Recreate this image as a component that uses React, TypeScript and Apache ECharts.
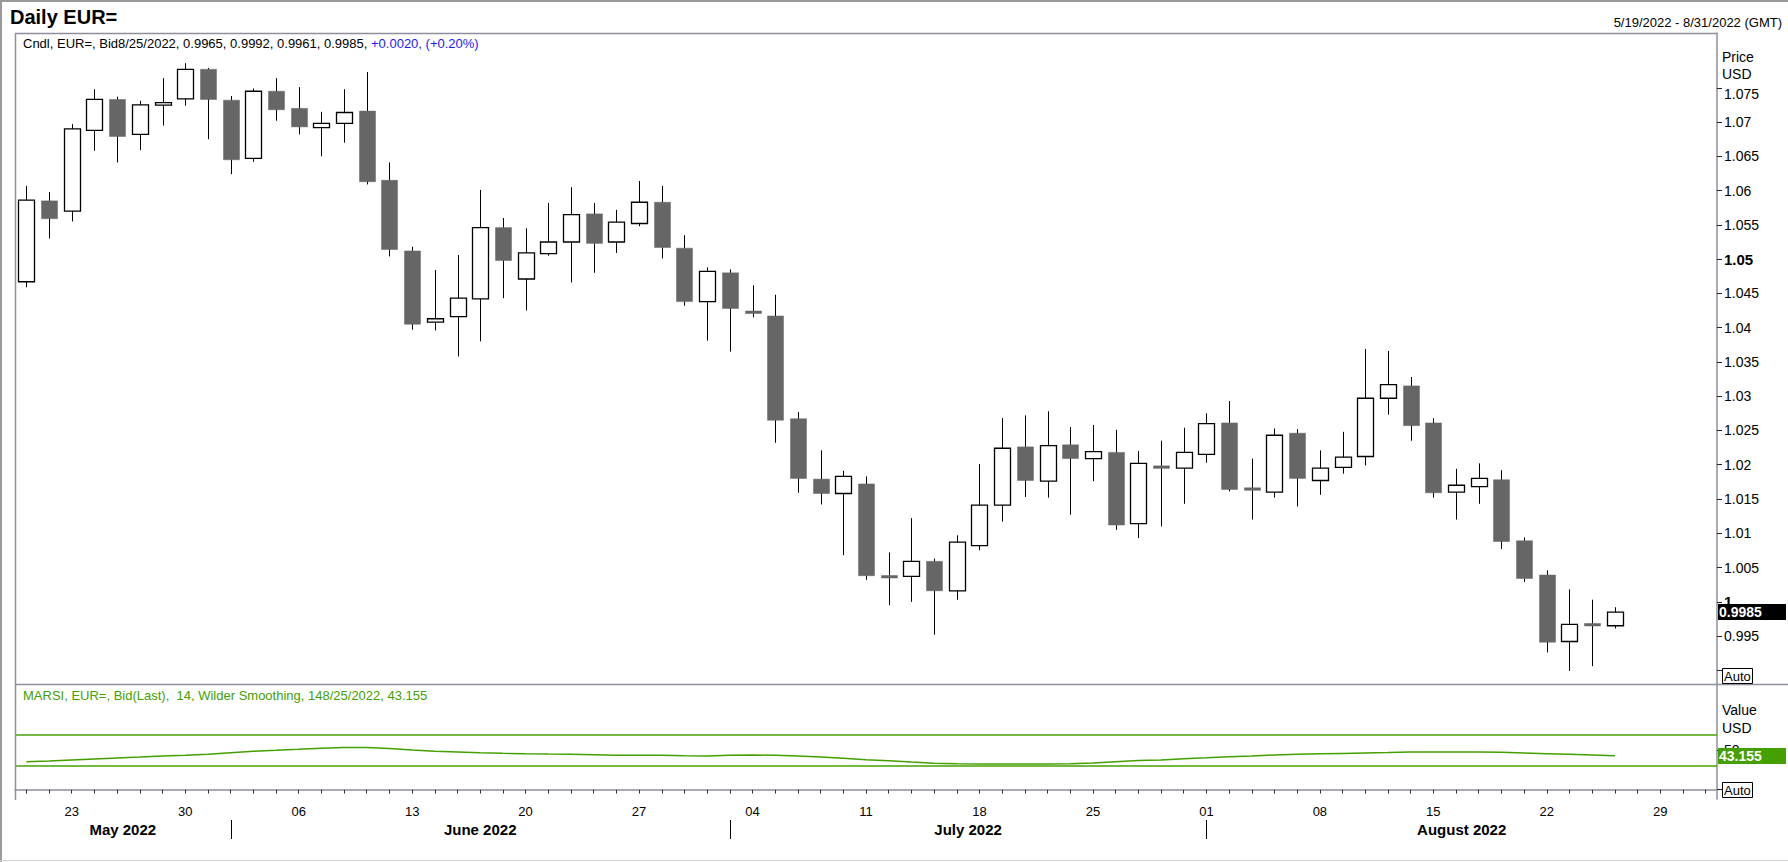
import React, { useEffect, useRef } from "react";
import * as echarts from "echarts";

const FONT = "'Liberation Sans', Arial, Helvetica, sans-serif";
const GREEN = "#44a000";
const AXIS_GRAY = "#8f8f9d";

// Categories: trading days shown on the time axis (5/19/2022 - 8/31/2022)
const dates: string[] = [
  "2022-05-19", "2022-05-20", "2022-05-23", "2022-05-24", "2022-05-25", "2022-05-26", "2022-05-27", "2022-05-30", "2022-05-31",
  "2022-06-01", "2022-06-02", "2022-06-03", "2022-06-06", "2022-06-07", "2022-06-08", "2022-06-09", "2022-06-10",
  "2022-06-13", "2022-06-14", "2022-06-15", "2022-06-16", "2022-06-17", "2022-06-20", "2022-06-21", "2022-06-22",
  "2022-06-23", "2022-06-24", "2022-06-27", "2022-06-28", "2022-06-29", "2022-06-30",
  "2022-07-01", "2022-07-04", "2022-07-05", "2022-07-06", "2022-07-07", "2022-07-08", "2022-07-11", "2022-07-12",
  "2022-07-13", "2022-07-14", "2022-07-15", "2022-07-18", "2022-07-19", "2022-07-20", "2022-07-21", "2022-07-22",
  "2022-07-25", "2022-07-26", "2022-07-27", "2022-07-28", "2022-07-29",
  "2022-08-01", "2022-08-02", "2022-08-03", "2022-08-04", "2022-08-05", "2022-08-08", "2022-08-09", "2022-08-10",
  "2022-08-11", "2022-08-12", "2022-08-15", "2022-08-16", "2022-08-17", "2022-08-18", "2022-08-19", "2022-08-22",
  "2022-08-23", "2022-08-24", "2022-08-25", "2022-08-26", "2022-08-29", "2022-08-30", "2022-08-31",
];

// Daily EUR= bid candles (5/19 .. 8/25)
const opens: number[] = [
  1.0467, 1.0585, 1.057, 1.0688, 1.0733, 1.0682, 1.0725, 1.0734, 1.0777, 1.0732,
  1.0647, 1.0745, 1.072, 1.0692, 1.0698, 1.0716, 1.0615, 1.0512, 1.0408, 1.0416,
  1.0442, 1.0546, 1.0471, 1.0508, 1.0525, 1.0566, 1.0525, 1.0552, 1.0583, 1.0516,
  1.0438, 1.048, 1.0424, 1.0417, 1.0267, 1.0179, 1.0158, 1.0172, 1.0037, 1.0037,
  1.0059, 1.0016, 1.0082, 1.0141, 1.0226, 1.0176, 1.0229, 1.0209, 1.0218, 1.0114,
  1.0197, 1.0195, 1.0215, 1.0261, 1.0165, 1.016, 1.0246, 1.0177, 1.0196, 1.0212,
  1.0297, 1.0315, 1.0261, 1.016, 1.0168, 1.0178, 1.0089, 1.0039, 0.9942, 0.9968,
  0.9965,
];
const closes: number[] = [
  1.0586, 1.0559, 1.069, 1.0733, 1.0679, 1.0725, 1.0728, 1.0777, 1.0733, 1.0645,
  1.0745, 1.0718, 1.0693, 1.0698, 1.0714, 1.0613, 1.0514, 1.0405, 1.0413, 1.0443,
  1.0546, 1.0498, 1.0509, 1.0525, 1.0565, 1.0523, 1.0554, 1.0583, 1.0517, 1.0438,
  1.0482, 1.0428, 1.0421, 1.0265, 1.018, 1.0158, 1.0183, 1.0038, 1.0036, 1.0059,
  1.0016, 1.0087, 1.0141, 1.0224, 1.0177, 1.0228, 1.0209, 1.0219, 1.0112, 1.0202,
  1.0196, 1.0218, 1.026, 1.0164, 1.0164, 1.0243, 1.018, 1.0195, 1.0211, 1.0297,
  1.0317, 1.0257, 1.0159, 1.017, 1.018, 1.0088, 1.0034, 0.9941, 0.9967, 0.9965,
  0.9985,
];
const lows: number[] = [
  1.0459, 1.053, 1.0555, 1.0658, 1.0641, 1.0659, 1.0695, 1.0724, 1.0675, 1.0624,
  1.0642, 1.0702, 1.0682, 1.065, 1.067, 1.0609, 1.0504, 1.0397, 1.0396, 1.0358,
  1.038, 1.0443, 1.0425, 1.0505, 1.0466, 1.048, 1.0509, 1.0548, 1.0501, 1.0432,
  1.0381, 1.0365, 1.0415, 1.0232, 1.0159, 1.0142, 1.0068, 1.0032, 0.9995, 1.0,
  0.9952, 1.0003, 1.0075, 1.0117, 1.0153, 1.0152, 1.0127, 1.0176, 1.0105, 1.0093,
  1.011, 1.0143, 1.0203, 1.0161, 1.012, 1.0152, 1.0139, 1.0156, 1.0187, 1.0199,
  1.0273, 1.0235, 1.0152, 1.012, 1.0143, 1.0077, 1.0029, 0.9926, 0.9899, 0.9906,
  0.9961,
];
const highs: number[] = [
  1.0607, 1.0598, 1.0697, 1.0748, 1.0737, 1.0731, 1.0764, 1.0786, 1.0779, 1.0738,
  1.0749, 1.0764, 1.0751, 1.0715, 1.0748, 1.0773, 1.0641, 1.0518, 1.0484, 1.0506,
  1.0601, 1.056, 1.0545, 1.0582, 1.0605, 1.0582, 1.0572, 1.0614, 1.0607, 1.0535,
  1.0488, 1.0485, 1.0462, 1.0448, 1.0277, 1.0221, 1.0191, 1.0183, 1.0072, 1.0122,
  1.0063, 1.0097, 1.0201, 1.0268, 1.0272, 1.0278, 1.0255, 1.0258, 1.0251, 1.022,
  1.0235, 1.0254, 1.0275, 1.0293, 1.0209, 1.0253, 1.0252, 1.0221, 1.0248, 1.0369,
  1.0366, 1.0328, 1.0268, 1.0194, 1.0202, 1.0192, 1.0094, 1.0046, 1.0018, 1.0003,
  0.9992,
];

// MARSI (14, Wilder smoothing)
const rsi: number[] = [
  35.5, 36.3, 37.6, 38.9, 40.2, 41.4, 42.7, 43.6, 45.0, 46.9,
  48.7, 49.9, 51.2, 52.6, 53.5, 53.5, 52.3, 50.3, 48.7, 47.8,
  46.9, 46.1, 45.5, 45.2, 45.0, 44.3, 43.6, 43.6, 43.6, 42.9,
  42.7, 43.5, 44.0, 43.6, 42.7, 41.4, 39.8, 38.0, 36.6, 35.0,
  33.5, 32.8, 32.5, 32.5, 32.5, 32.5, 32.8, 33.8, 35.5, 37.0,
  37.6, 39.3, 40.5, 41.8, 42.7, 44.0, 45.0, 45.6, 46.0, 46.5,
  47.0, 47.8, 47.8, 47.8, 47.8, 47.3, 46.5, 45.6, 44.8, 44.0,
  43.155,
];
const rsiLevels: number[] = [70, 30];

// Axis ticks and labels
const priceTicks: number[] = [
  0.99, 0.995, 1.0, 1.005, 1.01, 1.015, 1.02, 1.025, 1.03, 1.035,
  1.04, 1.045, 1.05, 1.055, 1.06, 1.065, 1.07, 1.075,
];
const priceTickLabels: string[] = [
  "", "0.995", "1", "1.005", "1.01", "1.015", "1.02", "1.025", "1.03", "1.035",
  "1.04", "1.045", "1.05", "1.055", "1.06", "1.065", "1.07", "1.075",
];
const boldPriceLabels: string[] = ["1", "1.05"];
const loweredPriceLabels: string[] = ["1.075"];
const rsiTicks: number[] = [0, 50];
const rsiTickLabels: string[] = ["", "50"];
const monthLabels: string[] = ["May 2022", "June 2022", "July 2022", "August 2022"];

const fmtDate = (d: string) => {
  const [y, m, dd] = d.split("-");
  return `${Number(m)}/${Number(dd)}/${y}`;
};
const isMonday = (d: string) => {
  const [y, m, dd] = d.split("-").map(Number);
  return new Date(Date.UTC(y, m - 1, dd)).getUTCDay() === 1;
};

function txt(x: number, y: number, text: string, o: any = {}) {
  return {
    type: "text",
    x,
    y,
    z: o.z ?? 30,
    silent: true,
    style: {
      text,
      fill: o.fill ?? "#000",
      fontSize: o.fontSize ?? 13,
      fontWeight: o.fontWeight ?? "normal",
      fontFamily: FONT,
      align: o.align ?? "left",
      textAlign: o.align ?? "left",
      verticalAlign: "middle",
      textVerticalAlign: "middle",
      rich: o.rich,
    },
  };
}
function ln(x1: number, y1: number, x2: number, y2: number, stroke: string, lineWidth = 1, z = 25) {
  return { type: "line", z, silent: true, shape: { x1, y1, x2, y2 }, style: { stroke, lineWidth } };
}

export default function App() {
  const ref = useRef<HTMLDivElement>(null);

  useEffect(() => {
    const el = ref.current!;
    const chart = echarts.init(el, null, { renderer: "svg", width: 1788, height: 862 });
    const candleData = opens.map((o, i) => [i, o, closes[i], lows[i], highs[i]]);

    const priceLabel = (v: number) => {
      const k = priceTicks.findIndex((t) => Math.abs(t - v) < 1e-9);
      const s = k >= 0 ? priceTickLabels[k] : "";
      if (boldPriceLabels.includes(s)) return `{b|${s}}`;
      if (loweredPriceLabels.includes(s)) return `{d|${s}}`;
      return s;
    };
    const rsiLabel = (v: number) => {
      const k = rsiTicks.findIndex((t) => Math.abs(t - v) < 1e-9);
      return k >= 0 ? rsiTickLabels[k] : "";
    };

    const option: any = {
      animation: false,
      textStyle: { fontFamily: FONT },
      grid: [
        { left: 15, right: 71, top: 33, height: 651 },
        { left: 15, right: 71, top: 684, height: 115 },
      ],
      xAxis: [
        {
          type: "category", gridIndex: 0, data: dates, boundaryGap: true,
          axisLine: { show: false }, axisTick: { show: false }, axisLabel: { show: false }, splitLine: { show: false },
        },
        {
          type: "category", gridIndex: 1, data: dates, boundaryGap: true,
          axisLine: { show: true, lineStyle: { color: AXIS_GRAY, width: 1.5 } },
          axisTick: { show: true, interval: 0, alignWithLabel: true, length: 4, lineStyle: { color: "#333" } },
          axisLabel: {
            interval: (_i: number, v: string) => isMonday(v),
            formatter: (v: string) => v.slice(8, 10),
            fontSize: 13, color: "#000", margin: 6,
          },
          splitLine: { show: false },
        },
      ],
      yAxis: [
        {
          type: "value", gridIndex: 0, position: "right", min: 0.988, max: 1.083,
          axisLine: { show: true, onZero: false, lineStyle: { color: AXIS_GRAY, width: 1.5 } },
          axisTick: { show: true, length: 5, customValues: priceTicks, lineStyle: { color: "#222" } },
          axisLabel: {
            show: true, customValues: priceTicks, formatter: priceLabel, color: "#000", fontSize: 14, margin: 7,
            rich: {
              b: { fontWeight: "bold", fontSize: 15, color: "#000", fontFamily: FONT },
              d: { fontSize: 14, color: "#000", fontFamily: FONT, padding: [12, 0, 0, 0] },
            },
          },
          splitLine: { show: false },
        },
        {
          type: "value", gridIndex: 1, position: "right", min: -11.9, max: 134.1,
          axisLine: { show: true, onZero: false, lineStyle: { color: AXIS_GRAY, width: 1.5 } },
          axisTick: { show: true, length: 5, customValues: rsiTicks, lineStyle: { color: "#222" } },
          axisLabel: { show: true, customValues: rsiTicks, formatter: rsiLabel, color: "#000", fontSize: 14, margin: 7 },
          splitLine: { show: false },
        },
      ],
      series: [
        {
          type: "custom",
          name: "EUR=",
          xAxisIndex: 0,
          yAxisIndex: 0,
          data: candleData,
          encode: { x: 0, y: [1, 2, 3, 4] },
          clip: true,
          renderItem: (_params: any, api: any) => {
            const idx = api.value(0);
            const o = api.value(1), c = api.value(2), l = api.value(3), h = api.value(4);
            const pO = api.coord([idx, o]);
            const yC = api.coord([idx, c])[1];
            const yL = api.coord([idx, l])[1];
            const yH = api.coord([idx, h])[1];
            const bw = Math.round(api.size([1, 0])[0] * 0.7);
            const xc = Math.round(pO[0]) + 0.5;
            const up = c > o;
            let top = Math.min(pO[1], yC);
            let bot = Math.max(pO[1], yC);
            if (bot - top < 2.5) {
              const m = (top + bot) / 2;
              top = m - 1.25;
              bot = m + 1.25;
            }
            return {
              type: "group",
              children: [
                { type: "line", shape: { x1: xc, y1: yH, x2: xc, y2: yL }, style: { stroke: "#000", lineWidth: 1 } },
                {
                  type: "rect",
                  shape: { x: xc - bw / 2, y: top, width: bw, height: bot - top },
                  style: up ? { fill: "#fff", stroke: "#000", lineWidth: 1.3 } : { fill: "#666666", stroke: "#666666", lineWidth: 0.5 },
                },
              ],
            };
          },
        },
        {
          type: "line",
          name: "MARSI",
          xAxisIndex: 1,
          yAxisIndex: 1,
          data: rsi,
          symbol: "none",
          showSymbol: false,
          lineStyle: { color: GREEN, width: 1.5 },
          itemStyle: { color: GREEN },
          markLine: {
            silent: true,
            symbol: ["none", "none"],
            label: { show: false },
            lineStyle: { color: GREEN, width: 1.5, type: "solid" },
            data: rsiLevels.map((v) => ({ yAxis: v })),
          },
        },
      ],
    };
    chart.setOption(option);

    // overlays derived from the chart's own scales
    const px = (i: number) => chart.convertToPixel({ xAxisIndex: 1 }, i) as unknown as number;
    const yPrice = (v: number) => chart.convertToPixel({ yAxisIndex: 0 }, v) as unknown as number;
    const yRsi = (v: number) => chart.convertToPixel({ yAxisIndex: 1 }, v) as unknown as number;
    const band = px(1) - px(0);
    const gl = px(0) - band / 2;
    const gr = px(dates.length - 1) + band / 2;
    const monthStarts: number[] = [];
    for (let i = 1; i < dates.length; i++) {
      if (dates[i].slice(5, 7) !== dates[i - 1].slice(5, 7)) monthStarts.push(i);
    }
    const bounds = [gl, ...monthStarts.map(px), gr];

    const last = opens.length - 1;
    const chg = closes[last] - closes[last - 1];
    const pct = (chg / closes[last - 1]) * 100;
    const sign = chg >= 0 ? "+" : "";
    const cndlMain = `Cndl, EUR=, Bid${fmtDate(dates[last])}, ${opens[last].toFixed(4)}, ${highs[last].toFixed(4)}, ${lows[last].toFixed(4)}, ${closes[last].toFixed(4)}, `;
    const cndlChg = `${sign}${chg.toFixed(4)}, (${sign}${pct.toFixed(2)}%)`;
    const rsiText = `MARSI, EUR=, Bid(Last),  14, Wilder Smoothing, 14${fmtDate(dates[last])}, ${rsi[last].toFixed(3)}`;

    const yLast = yPrice(closes[last]);
    const yRsiLast = yRsi(rsi[last]);
    const axisX = gr;

    const graphics: any[] = [
      // frame
      ln(0, 1, 1788, 1, "#9a9a9a", 2),
      ln(1, 0, 1, 862, "#9a9a9a", 2),
      ln(0, 860.5, 1788, 860.5, "#d4d4d4", 1),
      ln(gl, 33.5, axisX, 33.5, AXIS_GRAY, 1.5),
      ln(gl + 0.5, 33, gl + 0.5, 800, AXIS_GRAY, 1.5),
      ln(gl, 684.5, 1788, 684.5, AXIS_GRAY, 1.5),
      // titles
      txt(10, 17, "Daily EUR=", { fontSize: 20, fontWeight: "bold" }),
      txt(1782, 22, "5/19/2022 - 8/31/2022 (GMT)", { align: "right" }),
      {
        type: "text", x: 23, y: 43, z: 30, silent: true,
        style: {
          text: `{k|${cndlMain}}{b|${cndlChg}}`,
          fontFamily: FONT, fontSize: 13, verticalAlign: "middle", textVerticalAlign: "middle",
          rich: {
            k: { fill: "#000", color: "#000", fontSize: 13, fontFamily: FONT },
            b: { fill: "#1a1aff", color: "#1a1aff", fontSize: 13, fontFamily: FONT },
          },
        },
      },
      txt(23, 695, rsiText, { fill: GREEN }),
      // axis titles
      txt(axisX + 5, 57, "Price", { fontSize: 14 }),
      txt(axisX + 5, 74, "USD", { fontSize: 14 }),
      txt(axisX + 5, 710, "Value", { fontSize: 14 }),
      txt(axisX + 5, 728, "USD", { fontSize: 14 }),
      // Auto boxes
      { type: "rect", z: 30, silent: true, shape: { x: axisX + 5.5, y: 668.5, width: 30, height: 15 }, style: { fill: "#fff", stroke: "#000", lineWidth: 1 } },
      txt(axisX + 7, 676.5, "Auto", { z: 31 }),
      { type: "rect", z: 30, silent: true, shape: { x: axisX + 5.5, y: 782.5, width: 30, height: 15 }, style: { fill: "#fff", stroke: "#000", lineWidth: 1 } },
      txt(axisX + 7, 790.5, "Auto", { z: 31 }),
      // last value tags
      { type: "rect", z: 40, silent: true, shape: { x: axisX + 1, y: Math.round(yLast) - 8, width: 68, height: 16 }, style: { fill: "#000" } },
      txt(axisX + 2, Math.round(yLast), closes[last].toFixed(4), { fill: "#fff", fontWeight: "bold", fontSize: 14, z: 41 }),
      { type: "rect", z: 40, silent: true, shape: { x: axisX + 1, y: Math.round(yRsiLast) - 8, width: 68, height: 16 }, style: { fill: GREEN } },
      txt(axisX + 2, Math.round(yRsiLast), rsi[last].toFixed(3), { fill: "#fff", fontWeight: "bold", fontSize: 14, z: 41 }),
    ];
    monthStarts.forEach((i) => {
      const x = Math.round(px(i)) + 0.5;
      graphics.push(ln(x, 820, x, 839, "#000", 1));
    });
    monthLabels.forEach((m, k) => {
      graphics.push(txt((bounds[k] + bounds[k + 1]) / 2, 829, m, { align: "center", fontWeight: "bold", fontSize: 15 }));
    });

    chart.setOption({ graphic: { elements: graphics } });

    return () => chart.dispose();
  }, []);

  return (
    <div
      ref={ref}
      style={{ position: "fixed", left: 0, top: 0, width: 1788, height: 862, background: "#fff" }}
    />
  );
}
